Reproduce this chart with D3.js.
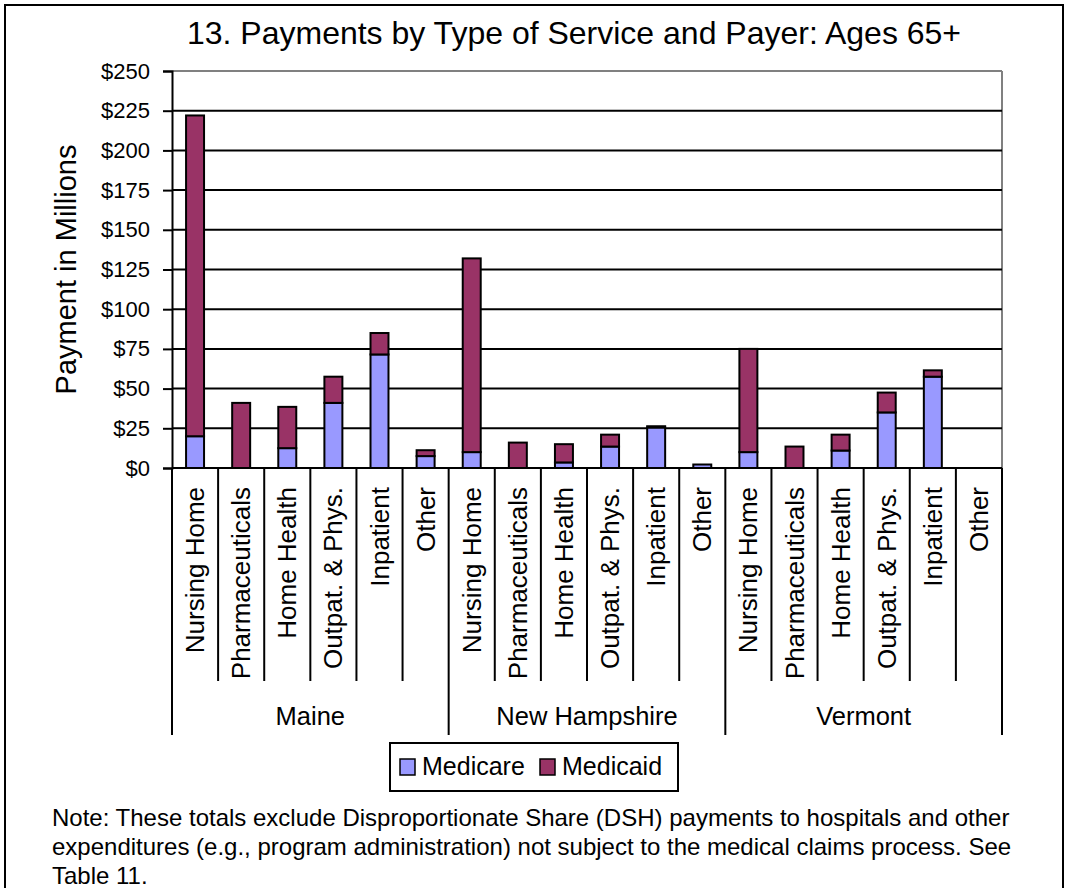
<!DOCTYPE html>
<html>
<head>
<meta charset="utf-8">
<script src="https://cdn.jsdelivr.net/npm/d3@7"></script>
<style>
  body { margin: 0; background: #fff; }
  svg { display: block; }
  text { font-family: "Liberation Sans", Arial, sans-serif; fill: #000; }
</style>
</head>
<body>
<svg id="chart" width="1068" height="888"></svg>
<script>
// ---- data ----
const groups = ["Maine", "New Hampshire", "Vermont"];
const services = ["Nursing Home", "Pharmaceuticals", "Home Health", "Outpat. & Phys.", "Inpatient", "Other"];
// values in $ millions, in order: group by group, service by service
const medicare = [20, 0, 12.5, 41, 71.5, 7.5,   10, 0, 3.5, 13.5, 25.5, 2.2,   10, 0, 11, 35, 57.5, 0];
const medicaid = [202, 41, 26, 16.5, 13.5, 3.7, 122, 16, 11.5, 7.5, 0.8, 0,    65, 13.5, 10, 12.5, 4, 0];
const seriesNames = ["Medicare", "Medicaid"];
const seriesColors = ["#9999FF", "#993366"];
const yTicks = [0, 25, 50, 75, 100, 125, 150, 175, 200, 225, 250];
const title = "13. Payments by Type of Service and Payer: Ages 65+";
const yTitle = "Payment in Millions";
const noteLines = [
  "Note: These totals exclude Disproportionate Share (DSH) payments to hospitals and other",
  "expenditures (e.g., program administration) not subject to the medical claims process. See",
  "Table 11."
];

// ---- build rows ----
const rows = [];
groups.forEach((g, gi) => services.forEach((s, si) => {
  const i = gi * services.length + si;
  rows.push({ key: g + "|" + s, group: g, service: s, Medicare: medicare[i], Medicaid: medicaid[i] });
}));

const svg = d3.select("#chart");
const W = 1068, H = 888;
const plot = { left: 172, right: 1002, top: 71, bottom: 468 };

svg.append("rect").attr("x", 0).attr("y", 0).attr("width", W).attr("height", H).attr("fill", "#fff");
// outer frame
svg.append("rect").attr("x", 5).attr("y", 5).attr("width", 1058).attr("height", 900)
  .attr("fill", "none").attr("stroke", "#000").attr("stroke-width", 2);

const y = d3.scaleLinear().domain([0, 250]).range([plot.bottom, plot.top]);
const cell = d3.scaleBand().domain(rows.map(d => d.key)).range([plot.left, plot.right]).padding(0);
const x = d3.scaleBand().domain(rows.map(d => d.key)).range([plot.left, plot.right])
  .paddingInner(0.61).paddingOuter(0.305);

// title
svg.append("text").attr("x", 574).attr("y", 44).attr("text-anchor", "middle")
  .attr("font-size", 32).text(title);

// plot border (top & right gray)
svg.append("line").attr("x1", plot.left).attr("x2", plot.right).attr("y1", plot.top).attr("y2", plot.top)
  .attr("stroke", "#808080").attr("stroke-width", 2);
svg.append("line").attr("x1", plot.right).attr("x2", plot.right).attr("y1", plot.top).attr("y2", plot.bottom)
  .attr("stroke", "#808080").attr("stroke-width", 2);

// gridlines
svg.append("g").selectAll("line").data(yTicks.filter(t => t > 0 && t < 250)).join("line")
  .attr("x1", plot.left).attr("x2", plot.right)
  .attr("y1", d => y(d)).attr("y2", d => y(d))
  .attr("stroke", "#000").attr("stroke-width", 2);

// y axis
const yAxis = d3.axisLeft(y).tickValues(yTicks).tickFormat(d => "$" + d).tickSize(9).tickPadding(13);
const gy = svg.append("g").attr("transform", `translate(${plot.left},0)`).call(yAxis);
gy.select(".domain").attr("stroke", "#000").attr("stroke-width", 2);
gy.selectAll(".tick line").attr("stroke", "#000").attr("stroke-width", 2);
gy.selectAll(".tick text").attr("font-size", 22).attr("font-family", "Liberation Sans, Arial, sans-serif").attr("fill", "#000");

// y title
svg.append("text").attr("transform", `translate(76,${(plot.top + plot.bottom) / 2}) rotate(-90)`)
  .attr("text-anchor", "middle").attr("font-size", 29).text(yTitle);

// stacked bars
const stack = d3.stack().keys(seriesNames)(rows);
const color = d3.scaleOrdinal().domain(seriesNames).range(seriesColors);
svg.append("g").selectAll("g").data(stack).join("g")
  .attr("fill", d => color(d.key))
  .selectAll("rect").data(d => d.filter(p => p[1] - p[0] > 0)).join("rect")
  .attr("x", d => x(d.data.key))
  .attr("width", x.bandwidth())
  .attr("y", d => y(d[1]))
  .attr("height", d => y(d[0]) - y(d[1]))
  .attr("stroke", "#000").attr("stroke-width", 2);

// bottom axis line
svg.append("line").attr("x1", plot.left).attr("x2", plot.right).attr("y1", plot.bottom).attr("y2", plot.bottom)
  .attr("stroke", "#000").attr("stroke-width", 2);

// category separators
const sepG = svg.append("g");
rows.forEach((d, i) => {
  const isGroupEdge = i % services.length === 0;
  const xx = cell(d.key);
  sepG.append("line").attr("x1", xx).attr("x2", xx).attr("y1", plot.bottom)
    .attr("y2", isGroupEdge ? 735 : 681).attr("stroke", "#000").attr("stroke-width", 2);
});
sepG.append("line").attr("x1", plot.right).attr("x2", plot.right).attr("y1", plot.bottom)
  .attr("y2", 735).attr("stroke", "#000").attr("stroke-width", 2);

// category labels
svg.append("g").selectAll("text").data(rows).join("text")
  .attr("transform", d => `translate(${cell(d.key) + cell.bandwidth() / 2},487) rotate(-90)`)
  .attr("text-anchor", "end").attr("dy", "0.35em").attr("font-size", 26)
  .text(d => d.service);

// group labels
svg.append("g").selectAll("text").data(groups).join("text")
  .attr("x", g => {
    const ks = rows.filter(r => r.group === g).map(r => r.key);
    return (cell(ks[0]) + cell(ks[ks.length - 1]) + cell.bandwidth()) / 2;
  })
  .attr("y", 725).attr("text-anchor", "middle").attr("font-size", 25.5).text(g => g);

// legend
const lg = svg.append("g");
lg.append("rect").attr("x", 390).attr("y", 743).attr("width", 288).attr("height", 48)
  .attr("fill", "#fff").attr("stroke", "#000").attr("stroke-width", 2);
const legendItems = [{ name: "Medicare", sx: 400, tx: 422 }, { name: "Medicaid", sx: 540, tx: 562 }];
legendItems.forEach(it => {
  lg.append("rect").attr("x", it.sx).attr("y", 759).attr("width", 15).attr("height", 16)
    .attr("fill", color(it.name)).attr("stroke", "#000").attr("stroke-width", 1.5);
  lg.append("text").attr("x", it.tx).attr("y", 775).attr("font-size", 25).text(it.name);
});

// note
svg.append("g").selectAll("text").data(noteLines).join("text")
  .attr("x", 52).attr("y", (d, i) => 826 + i * 29).attr("font-size", 24).text(d => d);
</script>
</body>
</html>
